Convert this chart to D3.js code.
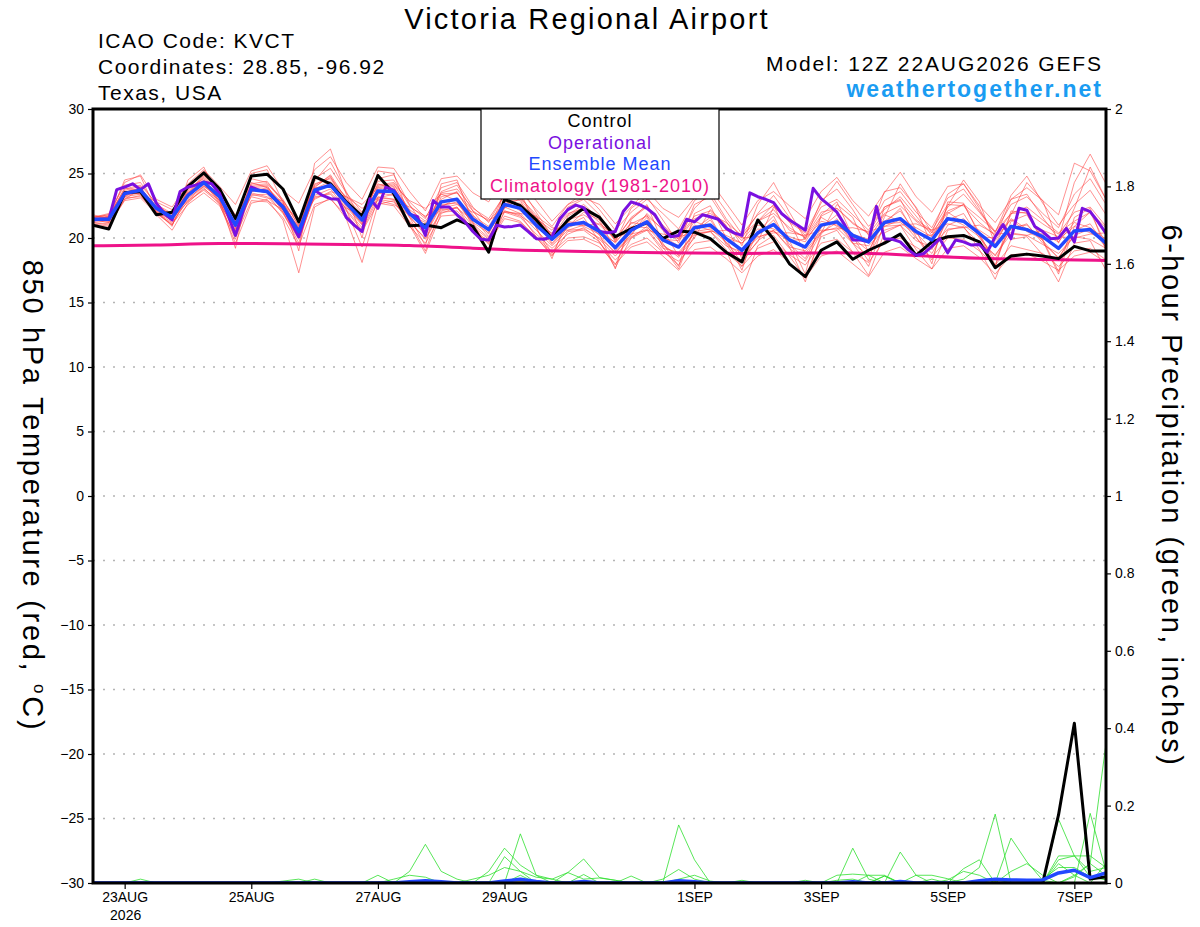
<!DOCTYPE html>
<html>
<head>
<meta charset="utf-8">
<script src="https://cdn.jsdelivr.net/npm/d3@7"></script>
<style>
  body { margin: 0; background: #fff; }
  svg { display: block; font-family: "Liberation Sans", Arial, sans-serif; }
</style>
</head>
<body>
<svg id="chart" width="1200" height="927"></svg>
<script>
// model run and axes
const runStart = "2026-08-22T12:00:00Z";
const tempTicks = [30, 25, 20, 15, 10, 5, 0, -5, -10, -15, -20, -25, -30];
const precipTicks = [0, 0.2, 0.4, 0.6, 0.8, 1, 1.2, 1.4, 1.6, 1.8, 2];
const xTickDates = ["2026-08-23", "2026-08-25", "2026-08-27", "2026-08-29", "2026-09-01", "2026-09-03", "2026-09-05", "2026-09-07"];
const xTickLabels = ["23AUG", "25AUG", "27AUG", "29AUG", "1SEP", "3SEP", "5SEP", "7SEP"];

// 850 hPa temperature, 6-hourly
const control = [21.0,20.7,23.5,23.6,21.8,22.0,24.0,25.05,23.8,21.5,
  24.8,24.95,23.8,21.25,24.75,24.2,22.8,21.7,24.85,23.45,
  20.95,21.0,20.8,21.4,20.9,18.9,23.0,22.5,21.4,19.95,
  21.4,22.3,21.6,20.1,20.7,21.2,19.95,20.55,20.45,19.95,
  18.9,18.15,21.4,19.9,18.0,17.0,19.05,19.7,18.35,19.05,
  19.6,20.3,18.65,19.7,20.1,20.2,19.7,17.7,18.6,18.75,
  18.6,18.4,19.35,19.0,19.0];
const ensMean = [21.45,21.45,23.45,23.7,22.3,21.6,23.3,24.3,23.2,21.0,
  23.75,23.6,22.4,20.5,23.7,24.1,22.7,21.4,23.65,23.6,
  21.9,20.8,22.8,23.0,21.45,20.65,22.6,22.3,21.0,19.9,
  21.0,21.2,20.5,19.25,20.6,21.25,19.85,19.3,20.8,21.0,
  19.95,19.05,20.4,21.05,19.85,19.3,21.0,21.25,20.2,19.7,
  21.2,21.5,20.5,19.85,21.5,21.3,20.35,19.35,20.9,20.65,
  20.1,19.2,20.55,20.65,19.6];
// operational run, 3-hourly
const operational = [21.4,21.45,21.45,23.75,23.95,24.2,23.75,24.2,22.7,21.9,
  21.4,23.6,23.95,24.1,24.35,24.2,23.45,21.9,20.2,22.15,
  23.95,23.7,23.6,23.05,22.4,21.25,20.1,22.05,23.7,23.3,
  23.05,23.0,21.6,21.0,20.5,23.05,22.3,23.95,23.7,22.8,
  21.85,21.65,20.2,22.9,22.4,22.4,21.8,21.25,20.5,19.9,
  19.85,21.0,20.85,20.9,21.0,20.5,19.95,19.9,20.1,21.5,
  22.2,22.55,22.35,21.4,20.5,20.4,20.5,22.05,22.8,22.6,
  22.3,21.8,20.8,20.1,20.2,21.45,21.25,21.8,21.65,21.45,
  20.75,20.4,20.2,23.5,23.2,23.0,22.75,21.9,21.4,21.0,
  20.6,23.85,23.05,22.55,22.0,21.0,19.85,19.85,19.7,22.45,
  19.95,19.9,19.7,19.1,18.65,18.8,19.35,19.95,18.85,19.85,
  19.7,19.45,19.5,18.9,20.1,21.05,19.95,22.3,22.15,20.9,
  20.5,19.95,20.0,20.75,19.7,22.3,22.05,21.25,20.35];
// climatology, daily
const climatology = [19.4,19.45,19.6,19.55,19.5,19.45,19.2,19.0,18.95,18.85,18.8,18.8,18.9,18.65,18.4,18.35,18.25];

// ensemble members, 6-hourly
const member01 = [21.6,21.9,24.1,24.3,22.6,21.9,24.0,25.2,23.8,21.6,24.6,24.3,23.0,20.9,24.6,25.4,23.5,22.0,24.4,24.5,22.5,21.5,23.9,24.3,22.4,21.2,23.4,23.0,21.5,20.6,21.9,22.3,21.2,19.9,21.5,22.4,20.8,20.0,21.7,22.1,20.9,19.8,21.3,22.2,20.6,20.1,22.0,22.3,21.1,20.4,22.4,22.9,21.4,20.6,22.6,22.5,21.2,20.2,21.9,22.0,21.1,20.3,22.0,22.4,20.9];
const member02 = [21.2,21.0,22.9,23.1,21.9,21.1,22.6,23.5,22.5,20.1,22.9,22.8,21.6,19.4,22.6,23.0,21.8,20.5,22.7,22.5,20.9,19.6,21.7,21.8,20.5,19.6,21.5,21.2,20.1,18.9,20.0,20.1,19.6,18.3,19.5,20.0,18.9,18.2,19.6,19.8,18.9,17.8,19.2,19.7,18.7,17.9,19.6,19.9,18.9,18.1,19.8,20.0,19.3,18.5,20.0,19.9,19.0,17.9,19.4,19.1,18.8,17.8,19.0,19.2,18.3];
const member03 = [21.8,21.5,24.5,24.8,22.1,20.9,24.5,25.5,23.0,19.2,25.0,25.3,22.8,19.0,25.8,26.9,23.4,20.0,25.2,25.0,21.6,19.4,24.2,24.5,21.2,19.0,23.9,23.6,20.8,18.4,21.7,22.4,20.3,17.6,21.4,22.6,19.6,17.8,21.9,22.5,20.0,17.5,21.3,22.6,19.8,17.2,21.8,22.8,20.1,18.2,22.4,23.0,20.6,18.0,22.8,22.7,20.2,17.7,22.1,21.9,19.9,17.4,21.6,22.3,19.0];
const member04 = [21.3,21.7,23.6,23.4,22.8,22.2,23.1,24.0,23.5,21.8,23.4,23.1,22.9,21.2,23.0,23.6,23.2,22.3,23.1,23.0,22.4,21.7,22.3,22.6,22.0,21.4,22.0,21.9,21.7,20.8,20.6,21.0,21.1,20.2,20.3,20.6,20.3,20.1,20.4,20.5,20.6,20.0,20.1,20.4,20.4,20.2,20.6,20.7,20.8,20.5,20.9,21.0,21.1,20.6,21.1,20.8,21.0,20.3,20.4,20.2,20.6,20.1,20.0,20.3,20.4];
const member05 = [21.5,21.3,23.2,23.9,22.0,21.4,23.6,24.7,23.4,20.7,24.0,24.1,22.1,20.2,24.1,24.8,22.5,21.1,24.0,24.2,22.1,20.4,23.2,23.5,21.8,20.3,23.1,23.2,21.6,20.1,21.8,22.6,21.5,19.8,21.6,22.5,21.0,19.9,22.3,23.5,21.5,20.0,21.9,23.3,21.6,20.2,22.4,23.0,21.8,20.6,22.9,23.6,22.0,20.8,23.1,23.8,22.1,20.5,22.6,23.2,21.9,20.8,23.4,24.6,22.6];
const member06 = [21.4,21.2,23.3,23.5,22.4,21.7,23.0,24.1,22.9,20.5,23.5,23.2,22.0,20.0,23.2,23.4,22.1,20.6,23.0,22.8,21.3,19.9,22.0,22.1,20.7,19.7,21.7,21.3,20.0,18.7,19.8,19.9,19.3,18.0,19.3,19.7,18.6,17.5,19.1,19.3,18.4,17.3,18.6,19.1,18.1,16.9,18.6,19.0,18.0,17.0,18.9,19.3,18.4,17.6,19.2,19.4,18.5,17.2,18.7,18.8,18.2,17.5,18.6,18.9,18.1];
const member07 = [21.7,21.6,23.9,23.6,22.2,21.3,23.8,24.6,22.8,20.4,24.3,23.9,22.6,20.8,24.2,24.6,22.9,21.7,24.2,23.8,22.0,21.0,23.4,22.9,21.7,20.9,22.9,22.1,21.3,20.2,21.3,21.0,20.7,19.6,21.2,21.0,20.1,19.4,21.3,20.8,20.2,19.6,21.0,20.7,20.1,19.7,21.6,20.9,20.3,19.9,21.8,21.3,20.8,20.1,22.0,21.2,20.6,19.8,21.5,20.7,20.3,19.7,21.2,20.8,19.9];
const member08 = [21.2,21.1,23.0,23.8,22.5,21.8,22.9,24.0,23.1,21.2,23.6,23.9,22.7,20.7,23.5,24.3,22.4,21.0,23.4,23.9,22.2,21.3,23.0,23.6,21.6,20.1,22.3,23.1,21.8,19.6,20.9,22.0,21.4,19.0,20.2,21.9,20.6,18.6,20.0,22.2,21.0,18.4,19.7,22.4,21.3,18.8,20.4,22.6,21.6,18.9,21.6,24.2,22.3,19.4,22.5,24.5,22.8,19.5,21.8,24.3,22.9,19.6,22.3,25.5,23.0];
const member09 = [21.6,21.8,23.7,24.0,22.0,21.0,23.4,24.9,23.6,21.3,23.9,24.0,22.3,20.3,23.9,24.9,23.0,21.6,23.8,24.0,21.7,20.2,22.5,22.8,21.1,20.0,22.4,22.6,21.2,19.5,20.8,21.3,20.2,18.8,20.3,21.6,19.4,18.7,20.5,21.4,19.6,18.6,20.2,21.4,19.5,18.4,20.8,21.8,20.0,19.0,21.3,22.1,20.4,19.1,21.4,21.9,20.0,18.6,20.7,21.1,19.6,18.5,20.2,20.7,19.3];
const member10 = [21.3,21.4,23.1,23.2,22.1,21.5,22.8,23.8,22.9,20.9,23.2,22.9,22.2,20.9,23.1,23.5,22.3,21.8,22.9,22.6,21.8,21.2,22.2,22.3,21.4,20.8,22.1,21.7,20.9,20.4,21.2,20.9,20.3,19.7,20.9,20.8,19.9,19.8,21.0,20.6,20.0,19.6,20.7,20.5,19.8,19.9,21.3,21.0,20.1,19.8,21.1,21.2,20.3,20.2,21.6,21.0,20.1,20.0,21.4,20.5,19.9,19.9,20.9,20.4,19.7];
const member11 = [21.5,21.6,23.5,23.9,22.4,21.7,23.5,24.4,23.3,21.1,24.2,24.4,22.8,20.6,24.4,25.9,23.6,21.2,24.6,24.9,22.6,20.7,23.6,24.1,22.1,20.5,23.6,24.0,22.0,20.1,22.4,23.0,21.8,19.7,22.3,23.2,21.4,19.6,22.6,23.2,21.3,19.4,22.6,24.3,22.0,19.9,22.9,23.8,22.2,20.2,23.6,23.9,22.4,20.4,23.4,24.2,22.3,20.0,23.0,23.4,21.6,19.9,24.3,26.5,24.2];
const member12 = [21.4,21.2,23.4,23.6,22.3,21.4,23.2,24.2,23.0,20.8,23.8,23.5,22.2,20.2,23.9,24.0,22.6,21.1,23.5,23.3,21.6,20.4,22.6,22.7,21.2,20.4,22.4,21.9,20.6,19.4,20.6,20.7,20.0,18.9,20.1,20.7,19.2,18.9,20.3,20.5,19.4,18.9,20.0,20.6,19.3,19.0,20.5,20.8,19.6,19.4,20.6,21.0,19.8,19.3,20.7,20.8,19.6,18.7,20.3,20.2,19.5,18.8,20.1,19.9,19.2];
const member13 = [21.6,21.5,23.2,23.4,21.8,20.6,22.7,23.9,22.6,19.6,22.7,23.0,21.4,17.3,22.4,23.1,21.5,18.1,22.6,22.9,21.0,18.8,21.9,22.4,20.5,19.1,22.1,21.8,20.1,18.6,20.5,20.6,19.7,17.7,20.0,20.6,19.0,17.9,20.2,20.5,19.1,16.0,19.4,20.2,18.6,16.9,20.1,20.6,18.9,17.1,20.4,21.0,19.1,17.6,20.6,20.9,19.1,16.8,19.9,20.1,18.7,16.6,19.6,19.8,17.5];
const member14 = [21.6,21.8,24.3,24.9,23.0,22.4,24.2,25.3,24.0,22.6,25.2,25.6,23.7,22.7,25.3,26.3,24.3,23.0,25.5,25.4,23.6,22.1,24.6,24.8,23.5,22.8,24.8,24.3,22.9,21.3,22.6,23.1,22.6,21.1,22.4,23.7,22.3,21.6,23.1,24.4,22.7,21.0,22.9,23.6,22.5,21.5,23.6,24.7,22.9,21.7,23.5,25.1,23.2,22.0,24.0,24.2,22.5,21.2,23.0,23.9,22.9,21.8,25.8,25.2,23.0];
const member15 = [21.5,21.7,23.8,24.1,22.7,21.6,23.7,24.8,23.5,21.4,24.1,24.2,22.9,21.0,24.0,24.7,23.1,21.9,24.1,24.3,22.8,21.6,23.5,23.8,22.3,21.5,23.3,23.6,22.2,20.9,22.6,23.5,22.2,20.6,22.0,23.0,21.9,20.7,22.9,23.8,22.1,20.3,21.8,22.5,21.2,20.4,22.7,24.4,22.6,20.9,22.2,23.2,21.7,20.2,22.4,23.4,22.0,20.4,23.3,24.8,22.7,21.0,22.6,23.7,21.8];
const member16 = [21.1,20.9,23.0,23.3,22.0,21.2,22.9,23.7,22.7,20.6,23.3,23.4,21.9,19.9,23.3,23.8,22.2,20.8,23.2,23.0,21.2,20.0,22.1,22.4,20.9,19.9,22.0,21.6,20.3,19.2,20.3,20.8,19.9,18.6,20.0,20.9,19.5,18.5,20.5,20.7,19.7,18.1,19.8,20.6,19.2,18.2,20.4,21.2,19.6,18.6,20.9,21.4,20.0,18.8,21.0,21.5,20.2,18.3,20.8,21.0,19.8,18.4,20.6,21.1,19.3];
const member17 = [21.5,21.3,23.6,23.8,22.3,21.9,23.5,24.5,23.2,21.6,23.9,23.7,22.6,21.4,23.8,24.4,23.2,22.6,23.9,24.1,22.9,22.3,23.4,23.5,22.1,21.3,22.7,22.7,21.6,20.3,21.4,21.8,21.0,19.9,21.1,21.7,20.7,19.9,21.5,21.9,21.2,20.2,21.3,21.9,20.8,20.0,21.7,22.3,21.2,20.3,21.9,22.5,21.3,20.4,22.1,22.6,21.6,20.5,21.9,22.4,21.4,20.4,21.3,22.0,20.8];
const member18 = [21.4,21.6,23.4,23.5,21.9,21.0,23.2,24.3,22.7,19.9,23.6,23.8,22.0,19.6,23.6,24.2,22.2,19.3,23.1,23.4,21.2,19.0,22.4,23.1,20.9,19.5,22.9,22.9,20.8,18.8,21.0,21.6,19.7,17.9,20.8,21.8,19.3,17.6,20.7,21.6,19.5,17.8,20.5,21.7,19.3,16.6,20.3,21.5,19.6,17.8,21.1,22.3,20.1,18.3,21.9,22.6,20.4,17.9,21.3,21.8,19.8,17.2,20.9,22.0,19.5];
const tempMembers = [member01, member02, member03, member04, member05, member06, member07, member08, member09,
  member10, member11, member12, member13, member14, member15, member16, member17, member18];

// 6-hour precipitation (inches)
const controlPrecip = [0,0,0,0,0,0,0,0,0,0,0,0,0,
  0,0,0,0,0,0,0,0,0,0,0,0,0,
  0,0,0,0,0,0,0,0,0,0,0,0,0,
  0,0,0,0,0,0,0,0,0,0,0,0,0,
  0,0,0,0,0,0,0,0,0,.176,.413,.01,.016];
const meanPrecip = [0,0,0,0,0,0,0,0,0,0,0,0,0,
  0,0,0,0,0,0,0,.003,.006,.003,0,0,0,
  .005,.01,.004,0,0,.004,0,0,0,0,0,.006,.003,
  0,0,0,0,0,0,0,0,0,.003,0,0,.004,
  0,0,0,0,.006,.01,.008,.007,.008,.026,.033,.014,.026];
const precip01 = [0,0,0,0,0,0,0,0,0,0,0,0,0,
  0,0,0,0,0,0,0,.03,.10,.03,.01,0,0,
  0,0,0,0,0,0,0,0,0,0,0,.15,.06,
  0,0,0,0,0,0,0,0,0,0,0,0,0,
  0,0,0,.01,.04,.178,0,0,0,0,.02,.05,.36];
const precip02 = [0,0,0,.01,0,0,0,0,0,0,0,0,0,
  0,0,0,0,0,0,0,0,0,0,0,0,.03,
  .09,.046,.02,0,0,0,0,0,0,0,0,0,0,
  0,0,0,0,0,0,0,0,0,.09,.01,0,0,
  0,0,0,0,0,0,0,0,0,.165,.07,.016,.01];
const precip03 = [0,0,0,0,0,0,0,0,0,0,0,0,0,
  0,.01,0,0,0,0,0,0,0,0,0,0,0,
  0,.127,.02,.01,0,0,0,0,0,0,0,0,0,
  0,0,0,0,0,0,0,0,0,0,0,0,.08,
  .02,0,0,0,0,0,.116,.055,.007,0,0,.18,.03];
const precip04 = [0,0,0,0,0,0,0,0,0,0,0,0,0,
  0,0,0,0,0,.02,0,0,0,0,0,0,0,
  .068,.03,0,0,.027,.062,.014,.007,0,0,0,0,0,
  0,0,0,0,0,0,0,0,0,0,0,0,0,
  0,0,0,.037,.06,0,0,0,0,.07,.07,.03,.04];
const precip05 = [0,0,0,0,0,0,0,0,0,0,0,0,0,
  0,0,0,0,0,0,0,0,0,0,0,0,0,
  0,.02,0,0,0,.022,0,0,.018,0,.01,.035,.01,
  0,0,.007,0,0,0,0,0,0,0,0,.018,0,
  .02,.02,.011,0,0,0,.03,.05,.02,0,.016,.05,.02];
const precip06 = [0,0,0,0,0,0,0,0,0,0,0,0,.005,
  .01,0,0,0,0,0,0,0,0,0,0,0,0,
  0,0,0,0,0,0,0,0,0,0,0,0,0,
  0,0,0,0,0,0,.007,0,.007,.01,0,.018,0,
  0,.01,0,0,0,.01,0,0,.01,.04,.04,.016,.008];
const precip07 = [0,0,0,0,0,0,0,0,0,0,0,0,0,
  0,0,0,0,0,0,.01,.02,.015,0,0,.01,.02,
  .04,.03,.015,.01,.027,.01,.013,.007,0,0,0,0,0,
  0,0,0,0,0,0,0,0,.02,.023,.02,0,0,
  0,0,0,0,0,0,0,0,0,.05,.02,0,.05];
const precip08 = [0,0,0,0,0,0,0,0,0,0,0,0,0,
  0,0,0,0,0,0,0,0,0,0,0,0,0,
  0,0,0,0,0,0,0,0,0,0,0,.01,.02,
  .005,0,0,0,0,0,0,0,0,0,.02,.02,0,
  0,0,.008,.03,.02,0,0,0,0,.06,.07,.07,.04];
const precipMembers = [precip01, precip02, precip03, precip04, precip05, precip06, precip07, precip08];

// ---------------------------------------------------------------
const svg = d3.select("#chart");
const W = 1200, H = 927;
const plotL = 93, plotR = 1106, plotT = 109, plotB = 883;

const t0 = new Date(runStart);
const stepTime = (i, hours) => new Date(t0.getTime() + i * hours * 3600e3);

const x = d3.scaleUtc().domain([t0, stepTime(64, 6)]).range([plotL, plotR]);
const yT = d3.scaleLinear().domain([-30, 30]).range([plotB, plotT]);
const yP = d3.scaleLinear().domain([0, 2]).range([plotB, plotT]);

svg.append("rect").attr("width", W).attr("height", H).attr("fill", "#fff");

svg.append("clipPath").attr("id", "plot")
  .append("rect").attr("x", plotL).attr("y", plotT).attr("width", plotR - plotL).attr("height", plotB - plotT);

// dotted grid on the temperature ticks
svg.append("g").selectAll("line")
  .data(tempTicks.filter(d => d > -30 && d < 30))
  .join("line")
  .attr("x1", plotL).attr("x2", plotR)
  .attr("y1", d => yT(d)).attr("y2", d => yT(d))
  .attr("stroke", "#b4b4b4").attr("stroke-width", 1.5)
  .attr("stroke-dasharray", "2,8");

const plot = svg.append("g").attr("clip-path", "url(#plot)");

const line6T = d3.line().x((d, i) => x(stepTime(i, 6))).y(d => yT(d));
const line3T = d3.line().x((d, i) => x(stepTime(i, 3))).y(d => yT(d));
const lineDayT = d3.line().x((d, i) => x(stepTime(i, 24))).y(d => yT(d)).curve(d3.curveBasis);
const line6P = d3.line().x((d, i) => x(stepTime(i, 6))).y(d => yP(d));

// precip members
plot.append("g").selectAll("path")
  .data(precipMembers)
  .join("path")
  .attr("d", line6P)
  .attr("fill", "none")
  .attr("stroke", "#2ee02e")
  .attr("stroke-width", 0.8);

// temperature members
plot.append("g").selectAll("path")
  .data(tempMembers)
  .join("path")
  .attr("d", line6T)
  .attr("fill", "none")
  .attr("stroke", "#ff3c3c")
  .attr("stroke-opacity", 0.8)
  .attr("stroke-width", 0.7);

plot.append("path").attr("d", lineDayT(climatology))
  .attr("fill", "none").attr("stroke", "#ee1289").attr("stroke-width", 3);

plot.append("path").attr("d", line6T(control))
  .attr("fill", "none").attr("stroke", "#000").attr("stroke-width", 3).attr("stroke-linejoin", "round");
plot.append("path").attr("d", line3T(operational))
  .attr("fill", "none").attr("stroke", "#7a10e0").attr("stroke-width", 3).attr("stroke-linejoin", "round");
plot.append("path").attr("d", line6T(ensMean))
  .attr("fill", "none").attr("stroke", "#2248ff").attr("stroke-width", 3.5).attr("stroke-linejoin", "round");

plot.append("path").attr("d", line6P(controlPrecip))
  .attr("fill", "none").attr("stroke", "#000").attr("stroke-width", 3).attr("stroke-linejoin", "round");
plot.append("path").attr("d", line6P(meanPrecip))
  .attr("fill", "none").attr("stroke", "#2248ff").attr("stroke-width", 3.5).attr("stroke-linejoin", "round");

// axes
const axL = svg.append("g").attr("transform", `translate(${plotL},0)`)
  .call(d3.axisLeft(yT).tickValues(tempTicks).tickSize(5).tickPadding(4).tickSizeOuter(0));
const axR = svg.append("g").attr("transform", `translate(${plotR},0)`)
  .call(d3.axisRight(yP).tickValues(precipTicks).tickSize(5).tickPadding(4).tickSizeOuter(0)
    .tickFormat(d => String(+d.toFixed(1))));
const axB = svg.append("g").attr("transform", `translate(0,${plotB})`)
  .call(d3.axisBottom(x).tickValues(xTickDates.map(d => new Date(d + "T00:00:00Z")))
    .tickFormat((d, i) => xTickLabels[i]).tickSize(6).tickPadding(3).tickSizeOuter(0));

[axL, axR, axB].forEach(g => {
  g.select(".domain").remove();
  g.selectAll("text").attr("font-size", 14).attr("fill", "#000")
    .attr("font-family", "'Liberation Sans', Arial, sans-serif");
  g.selectAll(".tick line").attr("stroke", "#000").attr("stroke-width", 1.2);
});

svg.append("text")
  .attr("x", x(new Date(xTickDates[0] + "T00:00:00Z")) + 1).attr("y", 920)
  .attr("text-anchor", "middle").attr("font-size", 14).text("2026");

// frame
svg.append("rect")
  .attr("x", plotL).attr("y", plotT).attr("width", plotR - plotL).attr("height", plotB - plotT)
  .attr("fill", "none").attr("stroke", "#000").attr("stroke-width", 3);

// legend
const legend = [
  { name: "Control", color: "#000" },
  { name: "Operational", color: "#7a10e0" },
  { name: "Ensemble Mean", color: "#2248ff" },
  { name: "Climatology (1981-2010)", color: "#ee1289" }
];
svg.append("rect").attr("x", 481).attr("y", plotT).attr("width", 238).attr("height", 90)
  .attr("fill", "#fff").attr("stroke", "#000").attr("stroke-width", 1.2);
svg.append("g").selectAll("text")
  .data(legend)
  .join("text")
  .attr("x", 600).attr("y", (d, i) => 127 + i * 21.5)
  .attr("text-anchor", "middle").attr("font-size", 18).attr("letter-spacing", 1)
  .attr("fill", d => d.color)
  .text(d => d.name);

// header
svg.append("text").attr("x", 587).attr("y", 29).attr("text-anchor", "middle")
  .attr("font-size", 29).attr("letter-spacing", 2.2).text("Victoria Regional Airport");
const info = ["ICAO Code: KVCT", "Coordinates: 28.85, -96.92", "Texas, USA"];
svg.append("g").selectAll("text").data(info).join("text")
  .attr("x", 98).attr("y", (d, i) => 48 + i * 26)
  .attr("font-size", 21).attr("letter-spacing", 1.5).text(d => d);
svg.append("text").attr("x", 1103).attr("y", 71).attr("text-anchor", "end")
  .attr("font-size", 21).attr("letter-spacing", 1.9).text("Model: 12Z 22AUG2026 GEFS");
svg.append("text").attr("x", 1103).attr("y", 97).attr("text-anchor", "end")
  .attr("font-size", 23).attr("font-weight", "bold").attr("letter-spacing", 2).attr("fill", "#1a9cf2")
  .text("weathertogether.net");

// axis titles
const yl = svg.append("text").attr("transform", "translate(33,496) rotate(90)")
  .attr("text-anchor", "middle").attr("dy", "0.35em").attr("font-size", 29).attr("letter-spacing", 2.7);
yl.append("tspan").text("850 hPa Temperature (red, ");
yl.append("tspan").attr("font-size", 17).attr("dy", -11).text("o");
yl.append("tspan").attr("dy", 11).text("C)");

svg.append("text").attr("transform", "translate(1172,496) rotate(90)")
  .attr("text-anchor", "middle").attr("dy", "0.35em").attr("font-size", 29).attr("letter-spacing", 2.5)
  .text("6-hour Precipitation (green, inches)");
</script>
</body>
</html>
